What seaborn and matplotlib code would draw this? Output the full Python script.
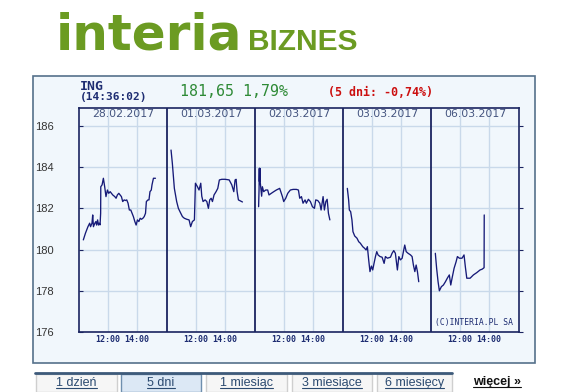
import matplotlib
matplotlib.use("Agg")
import matplotlib.pyplot as plt
import seaborn as sns
import pandas as pd
from matplotlib.patches import Rectangle
from matplotlib.lines import Line2D

# ---------------- data ----------------
dates = ["28.02.2017", "01.03.2017", "02.03.2017", "03.03.2017", "06.03.2017"]
y_ticks = [176, 178, 180, 182, 184, 186]
x_tick_hours = [12, 14]
x_tick_labels = ["12:00", "14:00"]

day1_hours = [10.30, 10.45, 10.62, 10.74, 10.80, 10.90, 10.95, 11.00, 11.10, 11.17, 11.22, 11.29, 11.35, 11.40,
              11.46, 11.50, 11.51, 11.60, 11.69, 11.78, 11.87, 11.97, 12.06, 12.16, 12.25, 12.34, 12.48, 12.57,
              12.66, 12.76, 12.85, 12.94, 13.03, 13.13, 13.22, 13.31, 13.40, 13.49, 13.59, 13.68, 13.77, 13.87,
              13.96, 14.05, 14.15, 14.24, 14.33, 14.43, 14.52, 14.61, 14.67, 14.78, 14.85, 14.92, 15.01, 15.06,
              15.16, 15.30]
day1_prices = [180.47, 180.80, 181.11, 181.28, 181.11, 181.28, 181.68, 181.11, 181.28, 181.36, 181.19, 181.44,
               181.19, 181.28, 181.20, 181.76, 183.05, 183.14, 183.46, 183.05, 182.57, 182.89, 182.73, 182.81,
               182.73, 182.65, 182.57, 182.49, 182.65, 182.73, 182.65, 182.57, 182.33, 182.41, 182.38, 182.41,
               182.25, 181.92, 181.92, 181.76, 181.60, 181.36, 181.19, 181.44, 181.36, 181.52, 181.47, 181.52,
               181.60, 181.76, 182.33, 182.41, 182.41, 182.81, 182.89, 183.14, 183.46, 183.46]

day2_hours = [10.28, 10.37, 10.51, 10.67, 10.79, 10.90, 11.07, 11.20, 11.37, 11.53, 11.64, 11.76, 11.90, 11.97,
              12.11, 12.22, 12.34, 12.41, 12.50, 12.64, 12.76, 12.87, 12.96, 13.06, 13.15, 13.26, 13.40, 13.52,
              13.63, 13.80, 14.03, 14.31, 14.49, 14.63, 14.72, 14.79, 14.86, 14.95, 15.09, 15.23]
day2_prices = [184.83, 184.19, 182.97, 182.33, 182.00, 181.84, 181.60, 181.52, 181.47, 181.44, 181.11, 181.36,
               181.44, 183.22, 183.05, 182.89, 183.22, 182.59, 182.33, 182.41, 182.33, 182.00, 182.41, 182.49,
               182.33, 182.65, 182.81, 182.97, 183.38, 183.41, 183.41, 183.38, 183.14, 182.81, 183.38, 183.41,
               182.81, 182.41, 182.36, 182.31]

day3_hours = [10.25, 10.28, 10.30, 10.31, 10.32, 10.33, 10.34, 10.36, 10.46, 10.51, 10.60, 10.74, 10.88, 10.97,
              11.13, 11.30, 11.48, 11.71, 11.90, 11.99, 12.13, 12.27, 12.45, 12.64, 12.87, 13.01, 13.10, 13.22,
              13.33, 13.47, 13.56, 13.70, 13.84, 13.98, 14.12, 14.21, 14.35, 14.49, 14.58, 14.72, 14.81, 14.91,
              15.00, 15.09, 15.19]
day3_prices = [182.08, 182.89, 183.94, 183.30, 183.94, 183.30, 183.94, 183.29, 182.59, 183.05, 182.81, 182.89,
               182.89, 182.65, 182.73, 182.81, 182.89, 182.97, 182.57, 182.33, 182.49, 182.73, 182.89, 182.92,
               182.92, 182.89, 182.49, 182.57, 182.25, 182.41, 182.25, 182.44, 182.33, 182.08, 182.00, 182.41,
               182.38, 182.25, 181.92, 182.57, 181.92, 182.33, 182.44, 181.76, 181.44]

day4_hours = [10.30, 10.39, 10.44, 10.53, 10.62, 10.69, 10.81, 10.97, 11.09, 11.20, 11.37, 11.50, 11.60, 11.69,
              11.78, 11.87, 11.97, 12.06, 12.15, 12.25, 12.34, 12.43, 12.57, 12.71, 12.85, 12.94, 13.08, 13.29,
              13.40, 13.52, 13.63, 13.77, 13.87, 13.98, 14.10, 14.21, 14.28, 14.38, 14.51, 14.68, 14.79, 14.88,
              14.98, 15.07, 15.16, 15.25]
day4_prices = [182.97, 182.41, 181.92, 181.84, 181.44, 180.87, 180.66, 180.55, 180.38, 180.31, 180.14, 180.06,
               179.98, 180.14, 179.50, 178.93, 179.20, 179.01, 179.33, 179.66, 179.90, 179.74, 179.66, 179.63,
               179.33, 179.66, 179.58, 179.63, 179.82, 179.95, 179.82, 179.01, 179.66, 179.50, 179.58, 179.98,
               180.22, 179.90, 179.82, 179.74, 179.66, 179.25, 178.93, 179.25, 178.93, 178.44]

day5_hours = [10.30, 10.39, 10.49, 10.58, 10.72, 10.86, 11.00, 11.13, 11.27, 11.37, 11.46, 11.60, 11.74, 11.83,
              11.97, 12.15, 12.29, 12.38, 12.48, 12.71, 12.94, 13.17, 13.40, 13.55, 13.68, 13.69]
day5_prices = [179.82, 179.09, 178.44, 178.00, 178.20, 178.28, 178.44, 178.61, 178.77, 178.28, 178.61, 179.09,
               179.41, 179.66, 179.58, 179.58, 179.74, 179.17, 178.61, 178.61, 178.77, 178.88, 179.01, 179.05,
               179.12, 181.68]

all_hours = [day1_hours, day2_hours, day3_hours, day4_hours, day5_hours]
all_prices = [day1_prices, day2_prices, day3_prices, day4_prices, day5_prices]

# ---------------- layout constants ----------------
W, H = 572, 392
DAY_START = 10.0
DAY_SPAN = 6.1
NAVY = "#1b2460"
LINE = "#161a78"
TXT = "#1e2d72"
GRID = "#c9d9ea"
BG = "#f1f7fc"

rows = []
for d, (hs, ps) in enumerate(zip(all_hours, all_prices)):
    for h, p in zip(hs, ps):
        rows.append({"day": d, "pos": d * DAY_SPAN + (h - DAY_START), "price": p})
df = pd.DataFrame(rows)

sns.set_style("white")
plt.rcParams["font.family"] = ["DejaVu Sans"]

fig = plt.figure(figsize=(W / 100, H / 100), dpi=100)
fig.patch.set_facecolor("white")


def fx(px):
    return px / W


def fy(py):
    return 1 - py / H


# outer box
fig.add_artist(Rectangle((fx(33), fy(363)), (535 - 33) / W, (363 - 76) / H, transform=fig.transFigure,
                         facecolor=BG, edgecolor="#55718b", lw=1.2, zorder=-2))

# logo
fig.text(fx(56), fy(50), "interia", fontsize=36, weight="bold", color="#6b9b22", va="baseline",
         ha="left", family="DejaVu Sans")
fig.text(fx(248), fy(50), "BIZNES", fontsize=21.5, weight="bold", color="#6b9b22", va="baseline",
         ha="left", family="Liberation Sans")

# header texts
fig.text(fx(80), fy(86.5), "ING", fontsize=9.5, weight="bold", color=TXT, va="center", ha="left",
         family="DejaVu Sans Mono")
fig.text(fx(80), fy(97), "(14:36:02)", fontsize=8, weight="bold", color=TXT, va="center", ha="left",
         family="DejaVu Sans Mono")
fig.text(fx(180), fy(91.5), "181,65 1,79%", fontsize=10.8, color="#2e8a36", va="center", ha="left",
         family="DejaVu Sans Mono")
fig.text(fx(328), fy(92), "(5 dni: -0,74%)", fontsize=8.4, weight="bold", color="#cc1010", va="center",
         ha="left", family="DejaVu Sans Mono")

# plot axes
ax = fig.add_axes([fx(79), fy(332), 440 / W, 224 / H])
ax.set_facecolor(BG)
ax.set_xlim(0, 5 * DAY_SPAN)
ax.set_ylim(176, 186.87)

sns.lineplot(data=df, x="pos", y="price", units="day", estimator=None, sort=False, color=LINE, lw=0.95,
             ax=ax, legend=False)
ax.set_xlabel("")
ax.set_ylabel("")

xt = []
xl = []
for d in range(5):
    for h, lab in zip(x_tick_hours, x_tick_labels):
        xt.append(d * DAY_SPAN + (h - DAY_START))
        xl.append(lab)
ax.set_xticks(xt)
ax.set_xticklabels(xl, fontsize=6, weight="bold", color=TXT, family="DejaVu Sans Mono")
ax.tick_params(axis="x", length=0, pad=2.5)

ax.set_yticks(y_ticks)
ax.set_yticklabels([str(v) for v in y_ticks], fontsize=8, color="#333333", family="Liberation Sans")
for lab in ax.get_yticklabels():
    lab.set_horizontalalignment("left")
ax.tick_params(axis="y", direction="in", length=3, color=NAVY, pad=31.5)

ax.grid(True, color=GRID, lw=1.0)
ax.set_axisbelow(True)
for d in range(1, 5):
    ax.axvline(d * DAY_SPAN, color=NAVY, lw=1.3, zorder=3)
for s in ax.spines.values():
    s.set_color(NAVY)
    s.set_linewidth(1.2)

for d, dt in enumerate(dates):
    ax.text(d * DAY_SPAN + DAY_SPAN / 2, 186.56, dt, ha="center", va="center", fontsize=7.8,
            color="#44547f")

ax.text((513 - 79) / 440, (332 - 323) / 224, "(C)INTERIA.PL SA", transform=ax.transAxes, ha="right",
        va="center", fontsize=5.8, color=TXT, family="DejaVu Sans Mono")

ax2 = ax.twinx()
ax2.set_ylim(ax.get_ylim())
ax2.set_yticks(y_ticks)
ax2.tick_params(axis="y", direction="out", length=3, color=NAVY, labelright=False)
for s in ax2.spines.values():
    s.set_visible(False)

# tabs
tabs = ["1 dzień", "5 dni", "1 miesiąc", "3 miesiące", "6 miesięcy"]
tab_x = [(36, 117), (121, 201), (206, 287), (292, 372), (377, 452)]
fig.add_artist(Line2D([fx(35), fx(452)], [fy(372.5), fy(372.5)], transform=fig.transFigure,
                      color="#3d5a7a", lw=2))
text_objs = []
for i, (lab, (x0, x1)) in enumerate(zip(tabs, tab_x)):
    sel = i == 1
    fig.add_artist(Rectangle((fx(x0), fy(392)), (x1 - x0) / W, (392 - 374) / H, transform=fig.transFigure,
                             facecolor="#dce8f5" if sel else "#f6f6f6",
                             edgecolor="#6f8fae" if sel else "#cfcfcf", lw=1, zorder=-2))
    t = fig.text(fx((x0 + x1) / 2), fy(383), lab, ha="center", va="center", fontsize=9, color="#2b4a70",
                 family="Liberation Sans")
    text_objs.append((t, "#2b4a70"))
t = fig.text(fx(497), fy(382), "więcej »", ha="center", va="center", fontsize=9, weight="bold",
             color="#111111", family="Liberation Sans")
text_objs.append((t, "#111111"))

fig.canvas.draw()
r = fig.canvas.get_renderer()
for t, c in text_objs:
    bb = t.get_window_extent(r)
    yline = (bb.y0 + 1) / H
    fig.add_artist(Line2D([bb.x0 / W, bb.x1 / W], [yline, yline], transform=fig.transFigure, color=c, lw=0.8))

fig.savefig("out.png", dpi=100)
